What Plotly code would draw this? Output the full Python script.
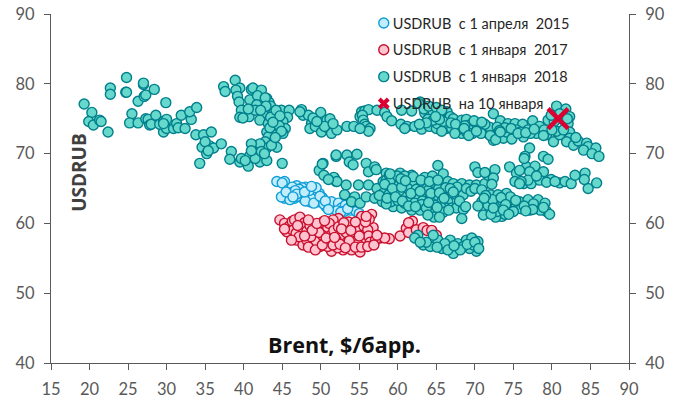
import plotly.graph_objects as go

FONT = "Lato"
TITLE_FONT = "Open Sans"
x_ticks = list(range(15, 95, 5))
y_ticks = list(range(40, 100, 10))

names = ["USDRUB  с 1 апреля  2015", "USDRUB  с 1 января  2017",
         "USDRUB  с 1 января  2018", "USDRUB  на 10 января"]

blue_pts = [(44.3,66),(45.3,66),(45,65.8),(46.9,65.4),(48,65.2),(49,64.9),(45.8,64.8),(46.3,65.2),(47.6,65.1),
 (45.3,63.6),(45.7,64.1),(46.6,63.6),(47.3,64.3),(46.2,64.4),(47.7,63.6),(48.6,63.1),(48.2,64),(49.8,64.3),
 (49.3,64.4),(49.7,63.1),(50.2,63.7),(50.7,62.4),(51.2,62.8),(51.8,62.4),(51.4,63.1),(52.3,62.9),(52.7,62.2),
 (53.2,62.6),(53.8,61.9),(54.2,62.4),(54.6,61.7),(55,61.4),(48.9,63.5),(47,63.9),(44.9,63.8),(46,63.4),
 (47.2,64.9),(48.5,64.7),(49.4,65.1),(46.7,64.7),(48,63.2),(49.1,62.9),(50.4,62.8),(52.1,61.8),(53,61.7),
 (45.5,64.5),(46.9,64.2),(47.9,64.5),(48.8,65.3),(49.9,63.9),(50.6,63.2),(51,62),(52.6,61.6),(53.5,62.1),(46.4,63.8)]

red_pts = [(44.7,60.5),(45.3,60),(45.9,59.6),(45.6,58.8),(46.3,60.3),(46.6,60.5),(47.3,60.9),(47.9,60.1),(46.9,57.6),
 (46.4,59),(47.7,56.9),(46.8,58.6),(47.5,59.5),(48.2,58.9),(48.6,59.7),(49.5,59.3),(50.1,60.1),(49,56.9),(49.9,56.7),
 (49.4,57.4),(50.5,57.3),(51.4,56),(50.9,59.3),(51.3,58.3),(52.3,60.7),(51.6,60.5),(51.1,60),(52.7,58.1),(52,57.6),
 (52.9,56.2),(53.3,57.2),(54,56.2),(53.6,60.2),(53.3,58.7),(54.2,58.4),(54.7,59.4),(55.3,61),(55.6,59.6),(56.6,61.3),
 (56.8,59.4),(56.1,59.1),(55.7,56.9),(55.1,55.9),(55.6,57.9),(56.2,58.2),(56.4,57.3),(57.7,57.9),(57.1,57.6),
 (58.9,57.8),(58.3,57.9),(60.3,58.2),(61.1,59.3),(61.4,58.7),(61.9,60.3),(61.4,60.1),(62.4,59.1),(63.3,59.4),
 (63.8,59),(64.4,59),(65,58.3),(48.2,57.6),(48.7,58.1),(50.2,58.3),(51.7,59),(52.3,59.5),(53,60.1),(54.4,57.4),
 (54.8,57),(53.7,57.5),(50.9,56.7),(52.2,56.5),(49.8,58.7),(55,58.2),(56.3,60.6),(55.8,60.2),(47.2,58.1),
 (48.4,56.6),(49.3,56.2),(50.2,56.9),(50.7,57.9),(51.6,56.9),(52.5,57),(53.2,56.5),(54.5,56.6),(55.3,56.6),(56.1,56.7),
 (48.9,59),(49.5,60),(50.5,60.4),(51.8,58),(52.7,59.2),(53.9,59),(54.5,60.2),(47,59.7),(47.9,58.2),(46.2,57.6),(45.3,59.2),
 (57.3,58.3),(56.9,56.9),(55.9,61),(48.4,60.5)]

teal_top_left = [(19.3,77.1),(20.3,75.9),(19.9,74.6),(20.5,74.1),(21.3,74.8),(21.5,74.6),(22.4,73.1),(22.7,79.4),(22.7,78.5),
 (24.8,80.9),(24.7,78.8),(24.8,78.8),(26.3,77.5),(27,79.9),(27,80.1),(27.1,78.2),(27.3,78.4),(28.4,79.2),(29.9,77.3),
 (25.5,75.7),(25.2,74.4),(26.3,74.4),(27.3,75),(27.6,74.9),(27.8,74.1),(28,74.2),(28.6,75.5),(29.6,73.1),(29.1,74.2),
 (29.6,74.6),(30,74.9),(30,73.6),(29.6,74.3),(30.9,73.6),(31.3,74.3),(31.5,73.7),(32.4,73.6),(31.9,75.5),(33.2,74.9),
 (33,76),(33.9,76.6),(33.8,72.7),(34.8,72.7),(35.8,73.1),(34.6,70.9),(35.2,70),(35.6,71.1),(36.1,70.8),(37.1,71.4),
 (34.3,68.6),(35,71.7),(35.4,70.4),
 (37.4,79.6),(37.6,78.9),(38.9,80.5),(39.5,79.4),(39,79.1),(39.2,78.2),(39.4,77.4),(41,79.2),(41.2,79.4),(42.3,79.1),
 (40.8,77.7),(41.8,78.3),(41.7,77),(43,77.9),(43.3,77.3),(42.8,78),(43.5,76.8),(39.7,76.2),(39.5,75.2),(40.7,75.3),
 (39.9,75.1),(41.5,76.2),(40.6,76.4),(42.6,75.5),(42.1,74.8),(43.2,74.3),(44.3,74.8),(44.9,76.2),(45.9,76.2),(45.7,75.2),
 (45.1,74.6),(45.4,73.6),(45.1,72.9),(44.3,73.4),(43.9,72.7),(43,73.1),(43.2,72.4),(42.8,71.7),(43,70.8),(44.3,70.9),
 (43.6,71.2),(42.1,71.4),(41,71.4),(41.7,70),(40.8,69.7),(39.5,68.8),(38.4,70.3),(38.2,69.2),(40.6,68.2),(39.7,69.3),
 (42.1,68.8),(43,69),(41.5,69.3),(45,68.6),(43.9,75.8),(44.4,75.6),(43.5,75.2),(44.2,76.2),(44.7,75.4),(43.4,73.7),(44.6,74),
 (47.5,76.3),(47.7,75.5),(48.4,75.5),(50,75.9),(48.8,74.3),(48.6,73.6),(49.3,73.9),(50.1,73.1),(50.8,74.8),(51.2,75),
 (51,73.6),(51.4,72.9),(52.1,73.4),(47.3,76),(49,75.1),(50.5,73.9),(51.6,74.3),
 (42.9,76.8),(42.2,76.2),(43.8,74.5),(44.9,73.2),(44.1,72.3),(42.3,70.3),(41,70.4),(40.2,69),(42.7,70),(49.5,74.6)]

teal_top_right = [(55.3,76),(55.7,76.1),(56.2,76.3),(55.1,75.3),(55.4,75.5),(55.5,74.8),(55.7,74.2),(55.9,73.9),(56.4,73.6),
 (56.2,73.2),(53.4,73.9),(54.3,73.9),(55.1,73.6),(57.3,76.2),(58.3,75.9),(58.6,75.3),(59.2,74.7),(60.4,74.2),(61.2,73.9),
 (60.9,73.6),(62.2,73.9),(63.1,73.5),(64.1,73.9),(65,73.6),(65.1,74.3),(60.5,76.2),(61.8,76.1),(62.9,77.4),(62.7,77.2),
 (63.5,75.8),(64.2,75.8),(64.6,76),(65.5,75.5),(66.4,76),(66.8,75.3),(67.2,75),(66.3,73.6),(67,73.6),(68.1,74.1),(68.3,74.8),
 (68.9,74.9),(69.3,74.1),(69.8,73.6),(70.4,74.1),(71.1,73.4),(71.7,72.9),(72.4,71.9),(68.3,72.9),(68.9,73.1),(70.2,74.3),
 (72.4,75.7),(73.3,74.7),(74.3,74.3),(75.2,74.3),(76.2,74.2),(77.5,74.7),(76.9,73.4),(76.3,72.4),(75,72.7),(73.7,72.2),
 (72.8,72.9),(74.1,73.1),(78,72.9),(79.3,72.7),(80.2,71.7),(78.4,73.9),(79.5,74.8),(80.6,76.8),(81.8,76.4),(82.3,75.3),
 (82.1,74.3),(82.3,73.1),(81,72.7),(82.3,72.2),(81.9,71.7),(82.8,71.2),(83.4,71.8),(84.5,71.5),(84.7,71),(84.1,70.5),
 (85.7,70.8),(85.2,70),(86.1,69.6),(63.9,74.9),(65.9,74.6),(64.6,74.8),(65.7,73.2),(67.7,73.4),(69.7,72.9),(70.8,72.9),
 (71.9,73.8),(72.9,73.8),(73.9,73.7),(75.4,73.4),(75.9,73.1),(77.2,72.9),(79,73.4),(80.6,73.2),(81.4,74.9),(80.3,74.6),(83.1,72.3),
 (63.4,76.4),(64,76.8),(65,76.6),(65.7,76.2),(66.9,74.4),(65.4,74.9),(64.9,75.3),(63.7,74.4),(62.8,74.2),(67.5,74.2),(68.7,74),
 (69.9,74.7),(71.3,74.2),(70.9,74.5),(72,72.6),(72.7,72),(73.2,73.3),(74.7,73.6),(74.8,72.1),(75.6,72.9),(76.6,73),(77.7,73.5),
 (78.9,72.6),(80,73.4),(81.5,73.4),(81,75.7),(79.9,75.5),(82,75),(68.6,73.6),(67.4,72.9),(69.2,72.6),(73.3,73.1),(70.2,73.2)]

teal_mid_a = [(53.4,69.8),(54.7,69.9),(53.7,68.8),(54.2,68.4),(55.9,68.6),(56.2,67.4),(57,68.1),(57.2,67.7),(50.3,68.6),(49.8,67.6),
 (50.4,66.9),(51.8,66.4),(52,66),(52,69.6),(51.7,66.6),(52.1,66),(53.3,65.5),(51,66.3),(52,69.8),(50.2,68.5),
 (58.5,67.2),(60.3,67.2),(61.8,66.9),(63.5,66.6),(64.5,66.8),(65.2,68.3),(65.9,67.1),(66.5,66),(54.9,65.5),(56.2,65.5),
 (57.3,65),(53.1,64.1),(54.4,63.8),(54,63.1),(55.1,62.9),(55.9,63.8),(57,63.6),(58,63.1),(58.1,66),(58.8,65.3),(58.5,66.2),
 (59.4,66.5),(59.8,65.7),(60.7,66),(61.6,66.2),(62.4,66.2),(63.3,65.7),(64.6,65.5),(58.1,64.3),(58.8,64.1),(59.6,64.5),
 (60.3,63.8),(61.1,64.1),(61.8,64.8),(62.6,64.1),(63.5,64.3),(64.2,63.6),(65,63.8),(65.7,63.1),(66.5,63.1),(67.6,64.1),
 (68.5,64.1),(59.4,62.4),(60.5,62.2),(61.8,61.9),(62.9,61.9),(64.4,62.9),(65.2,61.2),(66.3,62.2),(67,62.2),(67.6,62.2),
 (68.5,62),(68.3,60.7),(67.2,65.7),(68.3,65.7),(69.3,65.5),(70.2,65.5),(58.9,66.9),(59.9,66.8),(60.9,66.8),(59,65.9),
 (60.1,65.4),(61.2,65.3),(62,65.5),(62.9,65.2),(63.8,65.1),(65.3,65),(59.1,63.1),(60,63.3),(60.9,62.9),(61.5,63.3),
 (62.2,62.9),(63.2,63.2),(64.8,62.6),(65.6,62.3),(66.2,64.5),(66.9,64.7),(60.2,64.7),(61.3,65),(62.4,64.9),(63.1,62.7),
 (64.1,61.6),(64.7,61.4),(65.9,61.6),(57.6,64),(58.5,62.8),(63.9,64.7),(67.7,65.2),(66.2,65.1),(68.9,65),
 (58.3,65.6),(59.3,65),(60.5,65.2),(61.7,64.3),(62.9,64.6),(64.3,64.3),(65.4,64.4),(66,63.6),(58.6,63.6),(59.7,63.8),(60.6,63.2),
 (61.4,62.5),(62.3,62.4),(63.7,62.2),(64,63),(65.1,62.3),(62,66.7),(60.4,66.4),(63,66.2),(64.1,66),(65.2,66.2),(66.8,65),
 (67.2,64.5),(68,63.2),(68.8,62.4),(69.5,64.6),(70,65),(66.6,61.9),(64.7,60.9),(65.4,60.9),(59,67.1),(61,66.1),(63.9,61.2)]

teal_mid_b = [(71.3,65.7),(70,68.1),(70.4,67.3),(71.7,66.9),(72.6,67.7),(72.4,66.5),(72.2,65.6),(70.9,64.8),(70.9,63.1),(72,64.1),
 (71.7,62.6),(71.1,61.2),(73.5,61),(73.2,62.4),(74.3,62),(74.8,63.1),(74.1,64.3),(73,64.1),(75.8,63.1),(76.9,63.4),(77.1,61.9),
 (78.2,63.4),(79.1,62.9),(79.3,61.7),(79.7,61.3),(78,62.2),(74.5,68.1),(75.4,67.2),(76.3,65.7),(75.2,66),(77.3,65.7),(76.7,68.1),
 (77.8,68.2),(77.1,67.4),(78.9,67.4),(78.4,66.2),(79.9,66.3),(81,65.8),(81.7,66),(82.5,65.7),(83,66.9),(84.3,67.2),(84.7,65),
 (85.8,65.8),(84.2,66.3),(75.8,67.6),(77.1,70.8),(76.5,69.6),(78.9,69.6),(79.5,69.2),(76.4,69.3),(73.6,63.2),(75.3,62.3),
 (76,62.1),(78.5,61.9),(73.9,61.3),(72.7,60.9),(72.3,63.4),(74.6,63.8),(77.6,62.8),(71.4,64),
 (72.9,61.7),(73.4,63.7),(74,62.7),(75,61.7),(76.4,62.5),(77.5,62),(78.9,62.3),(71.3,67.3),(71.2,63.6),(72.1,61.3),(76.9,66.2),
 (76,66),(79.3,65.9),(80.4,66),(75.8,65.7),(78,66.8),(75.3,63.3),(73.7,61.9),(72.4,62.2),(74.4,61.3),(76.6,61.8),(70.4,62.5)]

teal_low = [(62.6,58.3),(62.2,57.9),(63.3,56.9),(64.2,56.7),(65.2,57.6),(64.6,58.3),(65.7,56.4),(66.8,57.6),(67.8,57.1),(67.2,55.7),
 (68.9,57.6),(69.6,57.9),(70.4,57.4),(70.2,56),(69.3,56.4),(68.5,56.7),(66.1,57.1),(68.1,56.2),(69.8,56.9),(63.7,57.3),(66.5,56.2),
 (67.3,56.8),(65.1,56.6),(62.9,57.3),(69,57),(70,57.3),(70.5,56.4)]

cross_x = [80.8]
cross_y = [75]

teal_pts = teal_top_left + teal_top_right + teal_mid_a + teal_mid_b + teal_low

def xs(p): return [a for a, _ in p]
def ys(p): return [b for _, b in p]

fig = go.Figure()
def dots(pts, name, fill, edge):
    fig.add_trace(go.Scatter(x=xs(pts), y=ys(pts), mode="markers", name=name, legendgroup=name,
                             marker=dict(size=10, color=fill, line=dict(color=edge, width=1.4))))
dots(blue_pts, names[0], "#C2EDFF", "#0F9ED5")
dots(red_pts, names[1], "#FFC4D0", "#C8102E")
dots(teal_pts, names[2], "#66D9CC", "#007F8C")
fig.add_trace(go.Scatter(x=cross_x, y=cross_y, mode="markers", showlegend=False,
                         marker=dict(symbol="x-thin", size=20, line=dict(color="#DC0032", width=4.5))))
fig.add_trace(go.Scatter(x=[None], y=[None], mode="markers", name=names[3], legendgroup=names[3],
                         marker=dict(symbol="x-thin", size=9, line=dict(color="#DC0032", width=4))))
fig.add_trace(go.Scatter(x=[None], y=[None], yaxis="y2", showlegend=False, mode="markers"))

axis_col = "#595959"
tick_font = dict(family=FONT, size=16.5, color=axis_col)
axis_common = dict(ticks="outside", ticklen=6, tickcolor=axis_col, showline=True, linecolor=axis_col, linewidth=1,
                   showgrid=False, zeroline=False, tickfont=tick_font, automargin=False)
fig.update_layout(
    width=681, height=401, margin=dict(l=51, r=52, t=14, b=38, autoexpand=False),
    paper_bgcolor="white", plot_bgcolor="white", font=dict(family=FONT),
    xaxis=dict(range=[15, 90], tickvals=x_ticks, ticklabelstandoff=5, **axis_common),
    yaxis=dict(range=[40, 90], tickvals=y_ticks, ticklabelstandoff=6, **axis_common),
    yaxis2=dict(range=[40, 90], tickvals=y_ticks, ticklabelstandoff=6, overlaying="y", side="right", **axis_common),
    legend=dict(xref="container", yref="container", x=0.518, y=0.9825, xanchor="left", yanchor="top",
                bgcolor="rgba(0,0,0,0)", itemsizing="trace",
                traceorder="grouped", tracegroupgap=5, itemwidth=30,
                font=dict(family=FONT, size=14.5, color="#262626")),
    annotations=[
        dict(text="<b>USDRUB</b>", xref="paper", yref="paper", x=0.048, y=0.547, xanchor="center", yanchor="middle",
             showarrow=False, textangle=-90,
             font=dict(family=TITLE_FONT, size=19, color="#404040")),
        dict(text="<b>Brent, $/барр.</b>", xref="paper", yref="paper", x=0.507, y=0.052, xanchor="center",
             yanchor="middle", showarrow=False,
             font=dict(family=TITLE_FONT, size=21.5, color="#111111")),
    ],
)
fig.write_html("out.html", config={"displayModeBar": False},
               post_script="document.body.style.margin='0';"
                           "document.querySelectorAll('.legendsymbols').forEach(e=>e.setAttribute('transform','translate(11,0)'));")
